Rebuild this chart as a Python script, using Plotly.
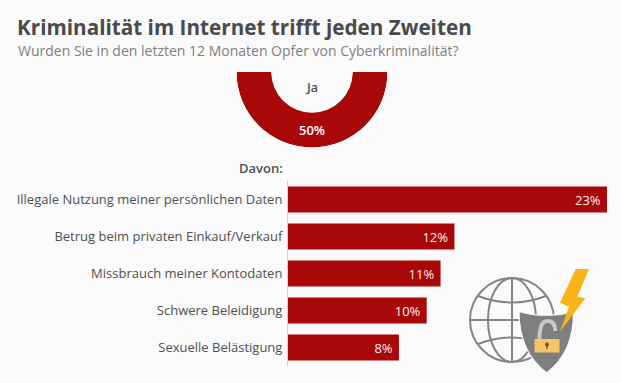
import plotly.graph_objects as go

W, H = 621, 383
title = "Kriminalität im Internet trifft jeden Zweiten"
subtitle = "Wurden Sie in den letzten 12 Monaten Opfer von Cyberkriminalität?"
categories = ["Illegale Nutzung meiner persönlichen Daten", "Betrug beim privaten Einkauf/Verkauf",
              "Missbrauch meiner Kontodaten", "Schwere Beleidigung", "Sexuelle Belästigung"]
values = [23, 12, 11, 10, 8]
ring_label = "Ja"
ring_share = 50
sub_heading = "Davon:"

RED = "#A80808"
BG = "#FAFAFA"
FONT = "Open Sans"
DARK = "#505050"


def px(x):
    return x / W


def py(y):
    return 1 - y / H


def path(points, close=True):
    s = " ".join(("M" if i == 0 else "L") + f"{px(x):.5f},{py(y):.5f}" for i, (x, y) in enumerate(points))
    return s + (" Z" if close else "")


def curve(segments, close=False):
    # segments: start point, then quadratic (ctrl, end) pairs
    start, rest = segments[0], segments[1:]
    s = f"M{px(start[0]):.5f},{py(start[1]):.5f}"
    for (cx, cy), (ex, ey) in rest:
        s += f" Q{px(cx):.5f},{py(cy):.5f} {px(ex):.5f},{py(ey):.5f}"
    return s + (" Z" if close else "")


fig = go.Figure()
fig.add_bar(
    x=values, y=categories, orientation="h", marker=dict(color=RED, line_width=0),
    text=[f"{v}%\u00a0" for v in values], textposition="inside", insidetextanchor="end",
    textangle=0, constraintext="none",
    textfont=dict(family=FONT, size=13, color="#FBEDED"), width=0.7, cliponaxis=False, showlegend=False,
)
fig.add_barpolar(
    r=[1], theta=[270], width=[ring_share * 3.6], marker=dict(color=RED, line_width=0), showlegend=False,
)

GRAY = "#858585"
globe_line = dict(color=GRAY, width=2)
c = (512, 320)
R = 42
RM = 24
SHIELD = "#7F7F7F"
shapes = [
    dict(type="circle", x0=px(c[0] - R), x1=px(c[0] + R), y0=py(c[1] - R), y1=py(c[1] + R), line=globe_line),
    dict(type="circle", x0=px(c[0] - RM), x1=px(c[0] + RM), y0=py(c[1] - R), y1=py(c[1] + R), line=globe_line),
    dict(type="path", path=path([(c[0], c[1] - R), (c[0], c[1] + R)], False), line=globe_line),
    dict(type="path", path=path([(c[0] - R, c[1]), (c[0] + R, c[1])], False), line=globe_line),
    dict(type="path", path=curve([(478, 296), ((512, 309), (546, 296))]), line=globe_line),
    dict(type="path", path=curve([(478, 344), ((512, 331), (546, 344))]), line=globe_line),
    # shield
    dict(type="path", path=curve([(519, 311.5), ((533, 316), (546.5, 315)), ((560, 316), (573.5, 311.5)),
                                  ((574, 352), (546.7, 373)), ((519, 352), (519, 311.5))], True),
         fillcolor=SHIELD, line=dict(color=BG, width=1.2)),
    # lightning bolt
    dict(type="path", path=path([(575.7, 269), (589, 269), (577.3, 296.7), (585.3, 298.3),
                                 (560, 331.7), (569, 306.7), (560, 302.7)]),
         fillcolor="#F8B316", line_width=0),
    # shackle
    dict(type="path", path=curve([(539.5, 341), ((539, 321), (547.5, 321)), ((555, 321), (555.3, 331))]),
         line=dict(color="#C8C8C8", width=4)),
    # lock body
    dict(type="rect", x0=px(534.5), x1=px(559.5), y0=py(339), y1=py(352.5), fillcolor="#F8C266", line_width=0),
    dict(type="circle", x0=px(545), x1=px(549), y0=py(342.5), y1=py(346.5), fillcolor="#6B5A35", line_width=0),
    dict(type="rect", x0=px(546.3), x1=px(547.7), y0=py(345.5), y1=py(349), fillcolor="#6B5A35", line_width=0),
]
for s in shapes:
    s.update(xref="paper", yref="paper")

annotations = [
    dict(text=subtitle, x=px(16), y=py(50.5), xanchor="left", yanchor="middle", showarrow=False,
         font=dict(family=FONT, size=14, color="#808080")),
    dict(text=ring_label, x=px(312), y=py(87), xanchor="center", yanchor="middle", showarrow=False,
         font=dict(family=FONT, size=12.5, color=DARK, weight=600)),
    dict(text=f"{ring_share}%", x=px(312), y=py(129.5), xanchor="center", yanchor="middle", showarrow=False,
         font=dict(family=FONT, size=13, color="white", weight=600)),
    dict(text=sub_heading, x=px(285), y=py(168), xanchor="right", yanchor="middle", showarrow=False,
         font=dict(family=FONT, size=13, color=DARK, weight=600)),
]
for a in annotations:
    a.update(xref="paper", yref="paper")

fig.update_layout(
    width=W, height=H, margin=dict(l=0, r=0, t=0, b=0), autosize=False,
    paper_bgcolor=BG, plot_bgcolor="rgba(0,0,0,0)", font=dict(family=FONT, color=DARK),
    title=dict(text=f"<b>{title}</b>", x=px(17), xanchor="left", xref="paper", y=py(27.5), yanchor="middle",
               yref="paper", font=dict(family=FONT, size=20.7, color="#4A4A4A")),
    xaxis=dict(domain=[px(288), px(607)], range=[0, 23], visible=False, fixedrange=True),
    yaxis=dict(domain=[py(366), py(181)], autorange="reversed", showgrid=False, showline=True,
               linecolor="#CFCFCF", linewidth=1, ticks="", ticklabelstandoff=2, zeroline=False,
               tickfont=dict(family=FONT, size=13, color=DARK), fixedrange=True),
    polar=dict(domain=dict(x=[px(236.5), px(387.5)], y=[py(147.5), py(72)]), sector=[180, 360], hole=0.538,
               bgcolor="rgba(0,0,0,0)",
               radialaxis=dict(visible=False, range=[0, 1]), angularaxis=dict(visible=False)),
    shapes=shapes, annotations=annotations, showlegend=False,
)

fig.write_html("out.html", config=dict(displayModeBar=False),
               post_script=f"document.body.style.margin='0';document.body.style.background='{BG}';")
